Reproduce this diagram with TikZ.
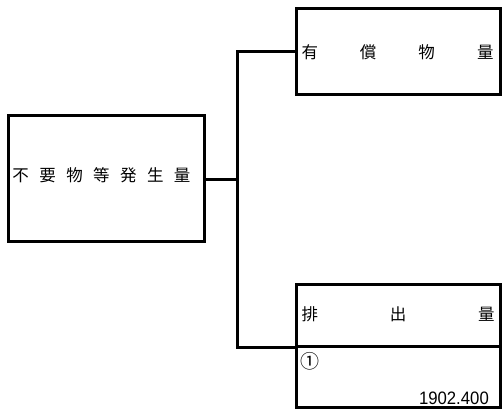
\documentclass[tikz,border=0pt]{standalone}
\usepackage{fontspec}
\newfontfamily\jpfont{Noto Sans CJK JP}
\newfontfamily\numfont{Liberation Sans}
\begin{document}
\begin{tikzpicture}[x=1pt,y=-1pt,
  box/.style={draw, line width=3pt, inner sep=0pt, minimum width=204pt},
  jtext/.style={font=\jpfont\fontsize{16.5}{16.5}\selectfont, inner sep=0pt},
  conn/.style={line width=3pt}]
\useasboundingbox (0,0) rectangle (502,409);
\node[box, minimum width=196pt, minimum height=126pt] (src) at (106,178) {};
\node[box, minimum height=85pt] (top) at (398,51.5) {};
\node[box, minimum height=62pt] (bot) at (398,315) {};
\node[box, minimum height=61pt] (val) at (398,376.5) {};
\node[jtext] (srct) at (101.5,175) {\makebox[178pt]{不\hfill 要\hfill 物\hfill 等\hfill 発\hfill 生\hfill 量}};
\node[jtext] (topt) at (397.5,52) {\makebox[192pt]{有\hfill 償\hfill 物\hfill 量}};
\node[jtext] (bott) at (398,314.5) {\makebox[193pt]{排\hfill 出\hfill 量}};
\node[jtext, font=\jpfont\fontsize{19}{19}\selectfont] (circ) at (310,361.5) {①};
\node[inner sep=0pt, anchor=base east, font=\numfont\fontsize{18}{18}\selectfont, xscale=0.93] (num) at (489,404) {1902.400};
\coordinate (j) at (237.5,179);
\draw[conn] (src.east |- j) -- (j);
\draw[conn] (top.west) -| (j) |- (bot.south west);
\end{tikzpicture}
\end{document}
